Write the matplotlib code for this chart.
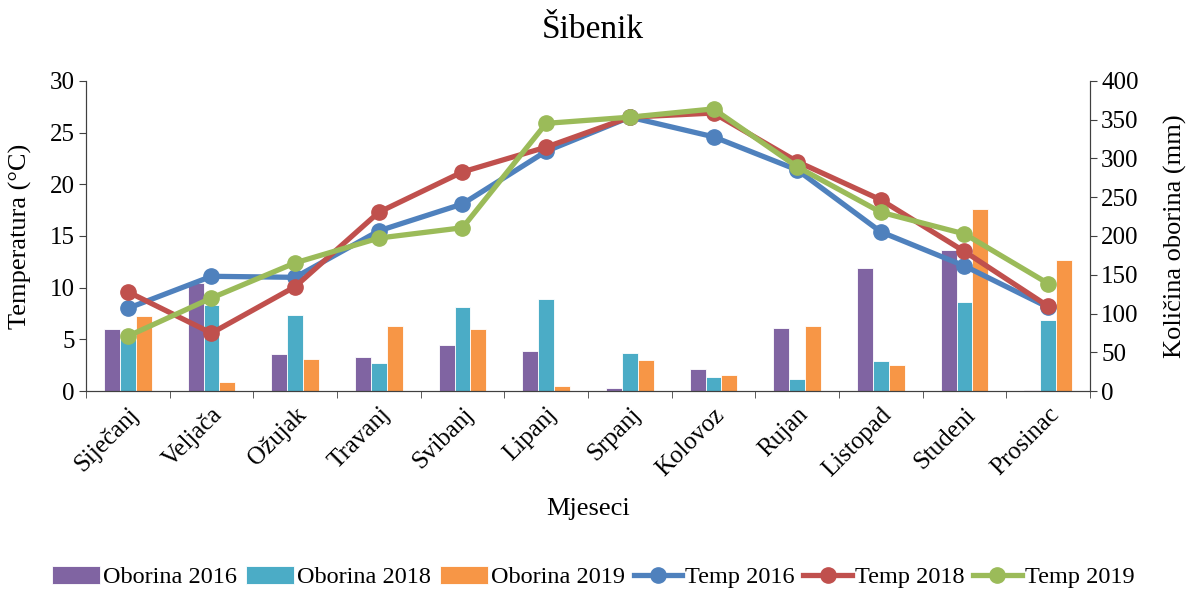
import numpy as np
import matplotlib
matplotlib.use('Agg')
import matplotlib.pyplot as plt

plt.rcParams['font.family'] = ['Liberation Serif', 'DejaVu Serif']

# data
mjeseci = ['Siječanj', 'Veljača', 'Ožujak', 'Travanj', 'Svibanj', 'Lipanj',
           'Srpanj', 'Kolovoz', 'Rujan', 'Listopad', 'Studeni', 'Prosinac']

oborina_2016 = [80, 139, 48, 44, 59, 52, 4, 28, 81, 159, 182, 1]
oborina_2018 = [70, 111, 98, 36, 108, 119, 49, 18, 16, 39, 115, 92]
oborina_2019 = [97, 11, 41, 84, 80, 7, 40, 21, 84, 34, 235, 169]

temp_2016 = [8.0, 11.1, 11.0, 15.5, 18.1, 23.2, 26.5, 24.6, 21.4, 15.4, 12.1, 8.1]
temp_2018 = [9.6, 5.6, 10.1, 17.3, 21.2, 23.6, 26.5, 26.9, 22.2, 18.5, 13.5, 8.2]
temp_2019 = [5.3, 9.0, 12.4, 14.8, 15.8, 25.9, 26.5, 27.3, 21.7, 17.3, 15.2, 10.4]

x = np.arange(len(mjeseci))
w = 0.19

W, H = 1186, 590
fig = plt.figure(figsize=(W/100, H/100), dpi=100)
ax = fig.add_axes([86/W, 1-391/H, (1090-86)/W, (391-81)/H])
ax2 = ax.twinx()

# bars on the right axis
b1 = ax2.bar(x - w, oborina_2016, w, color='#8064A2', edgecolor='white', linewidth=0.6)
b2 = ax2.bar(x, oborina_2018, w, color='#4BACC6', edgecolor='white', linewidth=0.6)
b3 = ax2.bar(x + w, oborina_2019, w, color='#F79646', edgecolor='white', linewidth=0.6)

# temperature lines on the left axis
l1, = ax.plot(x, temp_2016, color='#4F81BD', lw=3.8, marker='o', ms=11)
l2, = ax.plot(x, temp_2018, color='#C0504D', lw=3.8, marker='o', ms=11)
l3, = ax.plot(x, temp_2019, color='#9BBB59', lw=3.8, marker='o', ms=11)

ax.set_zorder(ax2.get_zorder() + 1)
ax.patch.set_visible(False)

ax.set_ylim(0, 30)
ax.set_yticks(range(0, 31, 5))
ax2.set_ylim(0, 400)
ax2.set_yticks(range(0, 401, 50))
ax.set_xlim(-0.5, 11.5)

ax.set_xticks(x)
ax.set_xticklabels(mjeseci, rotation=45, ha='right', rotation_mode='anchor')
ax.set_xticks(np.arange(-0.5, 12, 1), minor=True)
ax.tick_params(axis='x', which='major', length=0, labelsize=18, pad=9)
ax.tick_params(axis='x', which='minor', length=5, direction='out', color='#404040')
ax.tick_params(axis='y', labelsize=18, length=5, color='#404040', pad=3)
ax2.tick_params(axis='y', labelsize=18, length=5, color='#404040', pad=3)

for a in (ax, ax2):
    a.spines['top'].set_visible(False)
    for s in ('left', 'right', 'bottom'):
        a.spines[s].set_color('#404040')

ax.set_ylabel('Temperatura (°C)', fontsize=19, va='center')
ax.yaxis.set_label_coords(-0.0657, 0.5)
ax2.set_ylabel('Količina oborina (mm)', fontsize=19, va='center')
ax2.yaxis.set_label_coords(1.0847, 0.5)
ax.set_xlabel('Mjeseci', fontsize=19, va='center')
ax.xaxis.set_label_coords(0.5, (391-509)/310)
fig.text(0.5, 1-30/H, 'Šibenik', fontsize=24, ha='center', va='center')

fig.legend([b1, b2, b3, l1, l2, l3],
           ['Oborina 2016', 'Oborina 2018', 'Oborina 2019', 'Temp 2016', 'Temp 2018', 'Temp 2019'],
           loc='center', bbox_to_anchor=(0.5, 1-577/H), ncol=6, frameon=False,
           fontsize=17.5, handlelength=2.0, handleheight=0.8, columnspacing=0.35,
           handletextpad=0.12, borderaxespad=0)

fig.savefig('out.png', dpi=100)
